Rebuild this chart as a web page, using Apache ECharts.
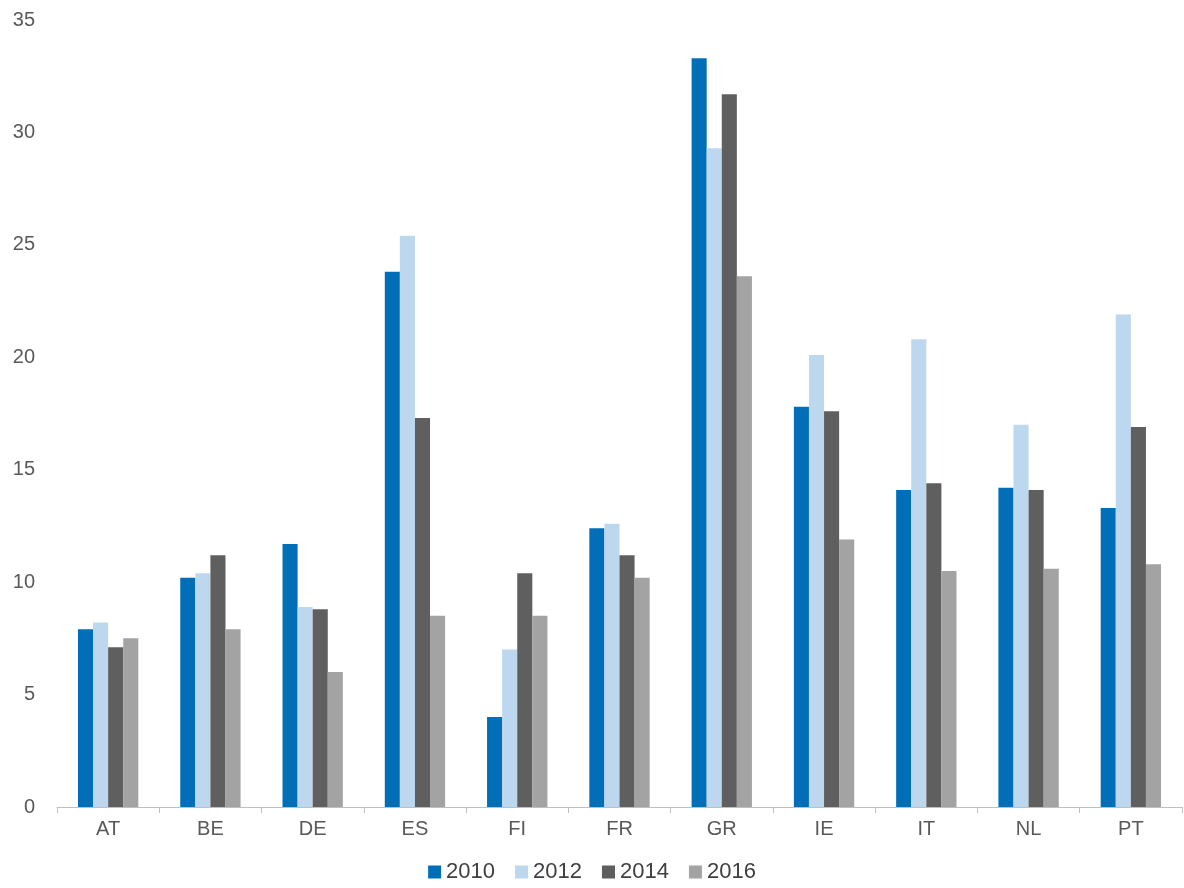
<!DOCTYPE html>
<html><head><meta charset="utf-8">
<script src="https://cdn.jsdelivr.net/npm/echarts@6/dist/echarts.min.js"></script>
<style>html,body{margin:0;background:#fff}#main{width:1184px;height:888px}</style>
</head><body><div id="main"></div>
<script>
var countries = ['AT','BE','DE','ES','FI','FR','GR','IE','IT','NL','PT'];
var y2010 = [7.9,10.2,11.7,23.8,4.0,12.4,33.3,17.8,14.1,14.2,13.3];
var y2012 = [8.2,10.4,8.9,25.4,7.0,12.6,29.3,20.1,20.8,17.0,21.9];
var y2014 = [7.1,11.2,8.8,17.3,10.4,11.2,31.7,17.6,14.4,14.1,16.9];
var y2016 = [7.5,7.9,6.0,8.5,8.5,10.2,23.6,11.9,10.5,10.6,10.8];
var colors = ['#006fb8','#bdd7ee','#5f5f5f','#a3a3a3'];

var myChart = echarts.init(document.getElementById('main'));
function s(name, data, i) {
    return { name: name, type: 'bar', data: data, barGap: '0%', barCategoryGap: '41%',
        itemStyle: { color: colors[i] } };
}
var option = {
    textStyle: { fontFamily: 'Liberation Sans, Arial, sans-serif' },
    grid: { left: 57, right: 2, top: 20, bottom: 81 },
    legend: {
        bottom: 0, left: 'center', itemWidth: 13, itemHeight: 13, itemGap: 20,
        icon: 'rect', textStyle: { fontSize: 22, color: '#404040', padding: [0, 0, 0, 0] }
    },
    xAxis: {
        type: 'category', data: countries,
        axisLine: { lineStyle: { color: '#bfbfbf' } },
        axisTick: { show: true, length: 6, lineStyle: { color: '#bfbfbf' } },
        axisLabel: { fontSize: 20, color: '#595959', margin: 12 }
    },
    yAxis: {
        type: 'value', min: 0, max: 35, interval: 5,
        splitLine: { show: false },
        axisLabel: { fontSize: 20, color: '#595959', margin: 22 }
    },
    series: [s('2010', y2010, 0), s('2012', y2012, 1), s('2014', y2014, 2), s('2016', y2016, 3)]
};
myChart.setOption(option);
</script></body></html>
